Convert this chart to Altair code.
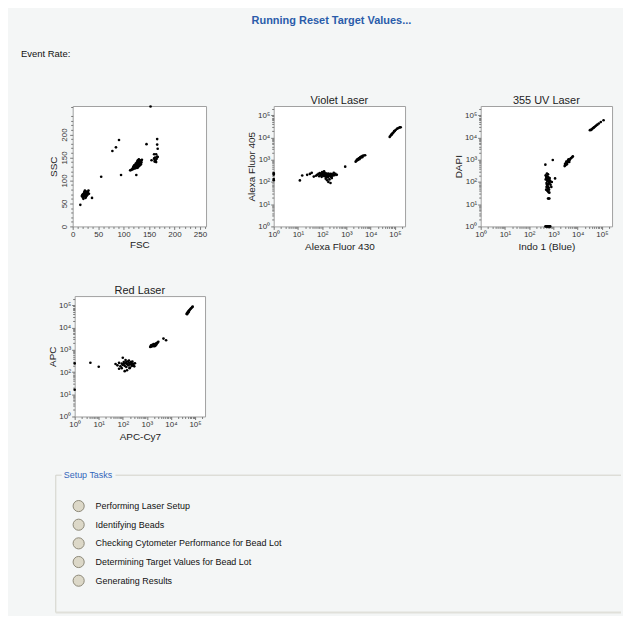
import altair as alt
import pandas as pd

FONT = "Liberation Sans"
BG = "#f4f6f6"

header_title = ["Running Reset Target Values..."]
event_label = ["Event Rate:"]

panel_titles = ["", "Violet Laser", "355 UV Laser", "Red Laser"]
x_titles = ["FSC", "Alexa Fluor 430", "Indo 1 (Blue)", "APC-Cy7"]
y_titles = ["SSC", "Alexa Fluor 405", "DAPI", "APC"]

lin_xticks = [0, 50, 100, 150, 200, 250]
lin_yticks = [0, 50, 100, 150, 200]
lin_minor = [v for v in range(0, 261, 10) if v % 50 != 0]
log_ticks = [1, 10, 100, 1000, 10000, 100000]
log_minor = [m * 10 ** k for k in range(0, 6) for m in range(2, 10) if m * 10 ** k <= 262144]

setup_label = ["Setup Tasks"]
tasks = [
    "Performing Laser Setup",
    "Identifying Beads",
    "Checking Cytometer Performance for Bead Lot",
    "Determining Target Values for Bead Lot",
    "Generating Results",
]

# FSC / SSC (linear)
p1_scatter = [(153, 261), (91, 188), (85, 172), (78, 164), (145, 179), (166, 190), (166, 178),
              (167, 169), (164, 157), (160, 157), (155, 144), (167, 151), (161, 145), (161, 141),
              (162, 150), (165, 147), (163, 143), (160, 148), (166, 152), (164, 140),
              (56, 108), (95, 112), (125, 112), (38, 62), (15, 47)]
p1_main = [(113, 122), (115, 123), (117, 124), (118, 126), (119, 125), (120, 127), (121, 128),
           (122, 126), (122, 130), (123, 129), (124, 131), (124, 128), (125, 132), (126, 130),
           (126, 134), (127, 133), (128, 135), (128, 131), (129, 136), (130, 134), (130, 138),
           (131, 137), (132, 139), (133, 136), (133, 141), (134, 140), (135, 143), (136, 145),
           (120, 131), (125, 136), (127, 138), (131, 142), (129, 140), (119, 129), (121, 133),
           (123, 134), (126, 127), (128, 128), (130, 131), (132, 133), (134, 135), (128, 144),
           (130, 146), (124, 137), (126, 139), (122, 133), (127, 141), (129, 132), (131, 135),
           (133, 138), (125, 129), (123, 127), (135, 139), (132, 144), (127, 136), (129, 138)]
p1_low = [(18, 66), (19, 68), (20, 70), (21, 65), (22, 67), (22, 72), (23, 69), (24, 71),
          (24, 66), (25, 68), (26, 73), (26, 64), (27, 70), (28, 67), (29, 72), (30, 75),
          (31, 78), (20, 63), (23, 74), (25, 62), (27, 76), (29, 69), (32, 71), (21, 60),
          (24, 78), (22, 70), (25, 66), (28, 73), (26, 69), (23, 75)]

# Violet laser (log)
p2_points = [(1, 250), (1, 215), (1, 135), (1, 120), (12, 118), (15, 195), (24, 210), (31, 230),
             (37, 257), (45, 175),
             (55, 190), (62, 210), (70, 230), (75, 180), (80, 250), (85, 200), (90, 220), (95, 170),
             (100, 240), (105, 195), (110, 215), (115, 185), (120, 260), (125, 205), (130, 225),
             (135, 175), (140, 245), (145, 190), (150, 210), (155, 230), (160, 180), (165, 200),
             (170, 220), (175, 160), (180, 240), (190, 195), (200, 215), (210, 185), (220, 235),
             (230, 170), (240, 205), (250, 225), (270, 190), (290, 215), (320, 200), (350, 230),
             (400, 210), (160, 120), (180, 100), (200, 130), (220, 90), (140, 140), (250, 150),
             (120, 300), (100, 280), (300, 260), (130, 195), (170, 185), (210, 205), (150, 170),
             (890, 490),
             (2400, 820), (2600, 900), (2800, 950), (3000, 1000), (3100, 1100), (3300, 1150),
             (3500, 1200), (3700, 1300), (4000, 1350), (4300, 1400), (4700, 1500), (5200, 1550),
             (5900, 1600), (2900, 1050), (3400, 1050), (3800, 1200), (2700, 1000), (4500, 1300),
             (61000, 10700), (66000, 12000), (72000, 13500), (78000, 15000), (85000, 16500),
             (92000, 18500), (100000, 20000), (110000, 22500), (125000, 25000), (140000, 27000),
             (158000, 28500), (70000, 13000), (76000, 14500), (95000, 19500), (173000, 29000)]

# 355 UV laser (log)
p3_points = [(470, 1), (520, 1), (560, 1), (600, 1), (650, 1), (700, 1), (740, 1),
             (600, 18), (640, 18), (680, 18),
             (480, 200), (500, 170), (520, 150), (540, 130), (560, 180), (580, 110), (600, 140),
             (620, 160), (640, 120), (660, 100), (520, 90), (540, 80), (560, 70), (600, 60),
             (640, 55), (500, 45), (560, 40), (620, 35), (680, 33), (700, 90), (760, 75),
             (820, 60), (480, 130), (600, 220), (540, 240), (700, 150), (580, 50), (660, 45),
             (520, 60), (740, 110), (860, 100), (620, 80), (560, 110), (680, 130),
             (465, 600), (940, 970), (1170, 145),
             (2900, 520), (3100, 560), (3300, 620), (3500, 680), (3700, 740), (3900, 800),
             (4100, 850), (4400, 920), (4700, 1000), (5000, 1100), (5400, 1200), (5900, 1300),
             (6300, 1420), (3200, 700), (3600, 620), (4000, 950), (4500, 800), (3000, 640),
             (3400, 820), (4200, 1050),
             (32000, 21500), (36000, 22000), (38000, 23500), (42000, 26000), (44000, 27000),
             (47000, 28500), (52000, 31000), (58000, 34500), (65000, 38000), (75000, 43000),
             (90000, 50000), (117000, 60000)]

# Red laser (log)
p4_points = [(1, 245), (1, 16), (4.5, 263), (10, 174),
             (50, 230), (60, 200), (70, 260), (80, 180), (90, 240), (100, 210), (110, 280),
             (120, 190), (130, 250), (140, 170), (150, 230), (160, 300), (170, 200), (180, 260),
             (190, 150), (200, 220), (220, 280), (240, 190), (260, 240), (280, 210), (300, 180),
             (320, 250), (100, 440), (130, 350), (150, 120), (120, 110), (180, 330), (90, 150),
             (70, 140), (250, 300), (200, 160), (140, 280), (110, 230), (230, 230),
             (1380, 1350), (1500, 1400), (1600, 1500), (1700, 1450), (1800, 1600), (1900, 1550),
             (2000, 1700), (2100, 1650), (2200, 1800), (2400, 1900), (2600, 2000), (2800, 2100),
             (3000, 2300), (1700, 1700), (2000, 1450), (2300, 1600), (1500, 1600), (2500, 1750),
             (1900, 1800), (2200, 1500), (4900, 3200), (6300, 2700),
             (45000, 42000), (48000, 46000), (51000, 50000), (54000, 55000), (58000, 60000),
             (62000, 65000), (66000, 70000), (71000, 76000), (76000, 82000), (80000, 88000),
             (47000, 40000), (52000, 47000), (56000, 52000)]

SUP = "'10' + ['\u2070','\u00b9','\u00b2','\u00b3','\u2074','\u2075','\u2076'][round(log(datum.value)/LN10)]"


def to_df(points):
    return pd.DataFrame({"x": [p[0] for p in points], "y": [p[1] for p in points]})


def panel(points, i, kind, w, h):
    df = to_df(points)
    if kind == "log":
        sc = alt.Scale(type="log", domain=[1, 262144], nice=False)
        xmaj, ymaj, xmin, ymin = log_ticks, log_ticks, log_minor, log_minor
        xlab = dict(labelExpr=SUP)
        ylab = dict(labelExpr=SUP)
        xtp, ytp = 3, 1
    else:
        sc = alt.Scale(domain=[0, 262], nice=False, zero=False)
        xmaj, ymaj, xmin, ymin = lin_xticks, lin_yticks, lin_minor, lin_minor
        xlab = {}
        ylab = dict(labelAngle=270, labelAlign="center", labelBaseline="bottom")
        xtp, ytp = 1, 2
    pts = alt.Chart(df).mark_circle(size=7, color="black", opacity=1).encode(
        x=alt.X("x:Q", scale=sc, axis=alt.Axis(orient="bottom", values=xmaj, title=x_titles[i],
                                               labelFlush=False, labelOverlap=False, tickSize=3,
                                               titlePadding=xtp, **xlab)),
        y=alt.Y("y:Q", scale=sc, axis=alt.Axis(orient="left", values=ymaj, title=y_titles[i],
                                               labelFlush=False, labelOverlap=False, tickSize=3,
                                               titlePadding=ytp, **ylab)),
    )
    minor = alt.Chart(df).mark_circle(size=1, opacity=0).encode(
        x=alt.X("x:Q", scale=sc, axis=alt.Axis(orient="bottom", values=xmin, labels=False,
                                               title=None, tickSize=2)),
        y=alt.Y("y:Q", scale=sc, axis=alt.Axis(orient="left", values=ymin, labels=False,
                                               title=None, tickSize=2)),
    )
    ch = alt.layer(pts, minor).resolve_axis(x="independent", y="independent").properties(
        width=w, height=h, view=alt.ViewBackground(fill="white", stroke="#a0a0a0"))
    if panel_titles[i]:
        ch = ch.properties(title=alt.TitleParams(panel_titles[i], font=FONT, fontSize=11,
                                                 fontWeight="normal", color="#222", offset=0))
    return ch


def spacer(w):
    return alt.Chart(pd.DataFrame({"a": [0]})).mark_rect(opacity=0).encode(
        x=alt.value(0), x2=alt.value(w), y=alt.value(0), y2=alt.value(1)
    ).properties(width=w, height=1)


p1 = panel(p1_scatter + p1_main + p1_low, 0, "lin", 134, 121)
p2 = panel(p2_points, 1, "log", 132, 121)
p3 = panel(p3_points, 2, "log", 132, 121)
p4 = panel(p4_points, 3, "log", 131, 121)

row1 = alt.hconcat(spacer(34), p1, spacer(8), p2, spacer(16), p3, spacing=30, bounds="flush")
row2 = alt.hconcat(spacer(36), p4, spacing=30, bounds="flush")

# header
head_t = alt.Chart(pd.DataFrame({"t": header_title})).mark_text(
    font=FONT, fontSize=11, fontWeight="bold", color="#2a5caa", align="center", baseline="middle"
).encode(text="t:N", x=alt.value(324), y=alt.value(11))
event_t = alt.Chart(pd.DataFrame({"t": event_label})).mark_text(
    font=FONT, fontSize=9.5, color="#111", align="left", baseline="middle"
).encode(text="t:N", x=alt.value(12), y=alt.value(44))
header = alt.layer(head_t, event_t).properties(width=615, height=60)

# setup tasks box
one = pd.DataFrame({"a": [0]})
line_col = "#d2d2ca"
l_left = alt.Chart(one).mark_rule(color=line_col, strokeWidth=1).encode(
    x=alt.value(47), y=alt.value(6), y2=alt.value(144))
l_top1 = alt.Chart(one).mark_rule(color=line_col, strokeWidth=1).encode(
    x=alt.value(47), x2=alt.value(53), y=alt.value(6))
l_top2 = alt.Chart(one).mark_rule(color=line_col, strokeWidth=1).encode(
    x=alt.value(107), x2=alt.value(615), y=alt.value(6))
l_bot = alt.Chart(one).mark_rule(color="#e0e0da", strokeWidth=2).encode(
    x=alt.value(47), x2=alt.value(615), y=alt.value(144))
s_lab = alt.Chart(pd.DataFrame({"t": setup_label})).mark_text(
    font=FONT, fontSize=9, color="#3366bb", align="left", baseline="middle"
).encode(text="t:N", x=alt.value(55), y=alt.value(6))
tdf = pd.DataFrame({"task": tasks})
yenc = alt.Y("task:N", sort=tasks, axis=None, scale=alt.Scale(type="point", range=[37, 112], padding=0))
circ = alt.Chart(tdf).mark_circle(size=125, fill="#dcd8c8", stroke="#8c8878", strokeWidth=1, opacity=1).encode(
    x=alt.value(70), y=yenc)
ttxt = alt.Chart(tdf).mark_text(font=FONT, fontSize=9, color="#111", align="left", baseline="middle").encode(
    x=alt.value(87), y=yenc, text="task:N")
setup = alt.layer(l_left, l_top1, l_top2, l_bot, s_lab, circ, ttxt).properties(width=615, height=145)

rows = alt.vconcat(row1, row2, spacing=32)
body = alt.vconcat(rows, setup, spacing=26)

chart = alt.vconcat(header, body, spacing=23).properties(
    background=BG, padding=0
).configure_view(stroke="transparent", fill="transparent").configure_axis(
    labelFont=FONT, labelFontSize=8, labelColor="#333", tickColor="#777", domain=False, grid=False,
    titleFont=FONT, titleFontSize=10, titleFontWeight="normal", titleColor="#222", labelPadding=1
)

chart.save("out.html", embed_options={"renderer": "svg", "actions": False})
